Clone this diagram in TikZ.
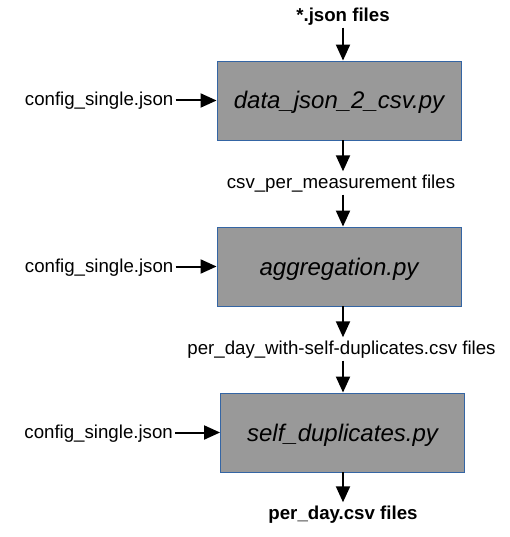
\documentclass[tikz,border=0pt]{standalone}
\usepackage{fontspec}
\setmainfont{Liberation Sans}
\usepackage{tikz}
\usetikzlibrary{arrows.meta,positioning}

\definecolor{boxgray}{HTML}{999999}
\definecolor{boxline}{HTML}{3465A4}

\begin{document}
\begin{tikzpicture}[x=1pt, y=-1pt,
    prog/.style={draw=boxline, line width=0.9pt, fill=boxgray,
      minimum width=244pt, minimum height=79pt, inner sep=0pt,
      text height=20pt, text depth=3pt,
      font=\fontsize{24}{28}\selectfont\itshape},
    lbl/.style={font=\fontsize{18.67}{22}\selectfont, inner sep=2pt,
      text height=15pt, text depth=4pt},
    fl/.style={-{Triangle[length=16pt, width=14pt]}, line width=2pt}
  ]
    \useasboundingbox (0,0) rectangle (510,537);

    \node[prog] (p1) at (339,100.5)   {data\_json\_2\_csv.py};
    \node[prog] (p2) at (339,266.5)   {aggregation.py};
    \node[prog] (p3) at (342.5,432.5) {self\_duplicates.py};

    \node[lbl, font=\fontsize{18.67}{22}\selectfont\bfseries] (in) at (343,16)
      {*.json files};
    \node[lbl] (f1) at (341,183)   {csv\_per\_measurement files};
    \node[lbl] (f2) at (341.5,349) {per\_day\_with-self-duplicates.csv files};
    \node[lbl, font=\fontsize{18.67}{22}\selectfont\bfseries] (out) at (343,514)
      {per\_day.csv files};

    \node[lbl, left=41pt of p1] (c1) {config\_single.json};
    \node[lbl, left=41pt of p2] (c2) {config\_single.json};
    \node[lbl, left=45pt of p3] (c3) {config\_single.json};

    \foreach \a/\b in {c1/p1, c2/p2, c3/p3} {
      \draw[fl] (\a) -- (\b);
    }
    \draw[fl] (in.south) -- (in.south |- p1.north);
    \draw[fl] (p1.south -| in) -- (f1.north -| in);
    \draw[fl] (f1.south -| in) -- (p2.north -| in);
    \draw[fl] (p2.south -| in) -- (f2.north -| in);
    \draw[fl] (f2.south -| in) -- (p3.north -| in);
    \draw[fl] (p3.south -| out) -- (out.north);
  \end{tikzpicture}
\end{document}
